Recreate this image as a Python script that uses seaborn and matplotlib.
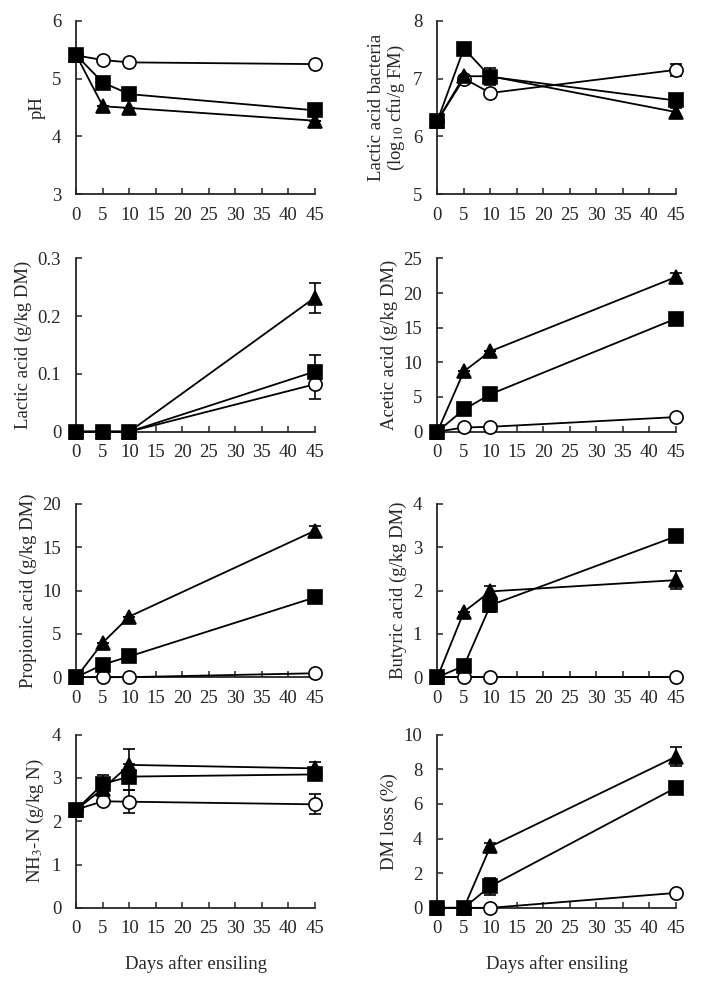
import seaborn as sns
import matplotlib.pyplot as plt
from matplotlib.ticker import FuncFormatter

# 数据：0, 5, 10, 45 天
DAYS = [0, 5, 10, 45]

# pH
ph_circle = [5.40, 5.32, 5.28, 5.25]
ph_square = [5.40, 4.93, 4.73, 4.45]
ph_triangle = [5.40, 4.52, 4.49, 4.27]

# Lactic acid bacteria
lab_circle = [6.27, 7.00, 6.75, 7.15]
lab_square = [6.27, 7.52, 7.03, 6.62]
lab_triangle = [6.27, 7.04, 7.04, 6.42]
lab_circle_err = [0, 0, 0, 0.10]
lab_square_err = [0, 0, 0.15, 0.05]
lab_triangle_err = [0, 0, 0, 0.07]

# Lactic acid
la_circle = [0, 0, 0, 0.082]
la_square = [0, 0, 0, 0.104]
la_triangle = [0, 0, 0, 0.232]
la_circle_err = [0, 0, 0, 0.025]
la_square_err = [0, 0, 0, 0.028]
la_triangle_err = [0, 0, 0, 0.026]

# Acetic acid
aa_circle = [0, 0.6, 0.7, 2.1]
aa_square = [0, 3.2, 5.4, 16.3]
aa_triangle = [0, 8.7, 11.6, 22.3]
aa_triangle_err = [0, 0, 0, 0.6]

# Propionic acid
pa_circle = [0, 0, 0, 0.45]
pa_square = [0, 1.45, 2.4, 9.2]
pa_triangle = [0, 4.0, 7.0, 16.9]
pa_triangle_err = [0, 0, 0, 0.5]

# Butyric acid
ba_circle = [0, 0, 0, 0]
ba_square = [0, 0.26, 1.66, 3.25]
ba_triangle = [0, 1.51, 1.98, 2.24]
ba_square_err = [0, 0, 0.15, 0]
ba_triangle_err = [0, 0, 0.13, 0.2]

# NH3-N
nh_circle = [2.27, 2.46, 2.45, 2.39]
nh_square = [2.27, 2.86, 3.03, 3.08]
nh_triangle = [2.27, 2.75, 3.30, 3.22]
nh_circle_err = [0, 0.05, 0.27, 0.23]
nh_square_err = [0, 0.2, 0.3, 0.1]
nh_triangle_err = [0, 0, 0.37, 0.15]

# DM loss
dm_circle = [0, 0, 0, 0.86]
dm_square = [0, 0, 1.25, 6.93]
dm_triangle = [0, 0, 3.54, 8.72]
dm_square_err = [0, 0, 0.5, 0]
dm_triangle_err = [0, 0, 0.2, 0.55]

ZERO = [0, 0, 0, 0]

PANELS = [
    ('pH', (3, 6), 1, ph_circle, ph_square, ph_triangle, ZERO, ZERO, ZERO),
    ('Lactic acid bacteria\n(log$_{10}$ cfu/g FM)', (5, 8), 1,
     lab_circle, lab_square, lab_triangle, lab_circle_err, lab_square_err, lab_triangle_err),
    ('Lactic acid (g/kg DM)', (0, 0.3), 0.1,
     la_circle, la_square, la_triangle, la_circle_err, la_square_err, la_triangle_err),
    ('Acetic acid (g/kg DM)', (0, 25), 5, aa_circle, aa_square, aa_triangle, ZERO, ZERO, aa_triangle_err),
    ('Propionic acid (g/kg DM)', (0, 20), 5, pa_circle, pa_square, pa_triangle, ZERO, ZERO, pa_triangle_err),
    ('Butyric acid (g/kg DM)', (0, 4), 1, ba_circle, ba_square, ba_triangle, ZERO, ba_square_err, ba_triangle_err),
    ('NH$_3$-N (g/kg N)', (0, 4), 1, nh_circle, nh_square, nh_triangle,
     nh_circle_err, nh_square_err, nh_triangle_err),
    ('DM loss (%)', (0, 10), 2, dm_circle, dm_square, dm_triangle, ZERO, dm_square_err, dm_triangle_err),
]

sns.set_style('ticks')
plt.rcParams['font.family'] = ['Liberation Serif', 'DejaVu Serif']
plt.rcParams['mathtext.fontset'] = 'stix'
plt.rcParams['font.size'] = 13.5

fig = plt.figure(figsize=(7.01, 9.9), dpi=100)

# 轴的位置（左、下、宽、高）
lefts = [0.109, 0.624]
bottoms = [0.804, 0.564, 0.316, 0.083]
width = 0.340
height = 0.175

for i, (ylabel, ylim, ystep, c, s, t, ce, se, te) in enumerate(PANELS):
    row, col = divmod(i, 2)
    ax = fig.add_axes([lefts[col], bottoms[row], width, height])

    styles = [
        (c, ce, 'o', 'white', 9.5),
        (t, te, '^', 'black', 10),
        (s, se, 's', 'black', 10.5),
    ]
    for vals, err, mk, face, ms in styles:
        ax.errorbar(DAYS, vals, yerr=err, fmt='none', ecolor='black',
                    elinewidth=1.2, capsize=4, capthick=1.2, zorder=2, clip_on=False)
        sns.lineplot(x=DAYS, y=vals, ax=ax, color='black', linewidth=1.3,
                     marker=mk, markersize=ms, markerfacecolor=face,
                     markeredgecolor='black', markeredgewidth=1.2,
                     errorbar=None, clip_on=False, zorder=3)

    ax.set_xlim(0, 45)
    ax.set_ylim(*ylim)
    ax.set_xticks(range(0, 46, 5))
    n = int(round((ylim[1] - ylim[0]) / ystep))
    ax.set_yticks([ylim[0] + k * ystep for k in range(n + 1)])
    ax.yaxis.set_major_formatter(FuncFormatter(lambda v, p: f'{round(v, 3):g}'))
    ax.tick_params(direction='in', length=4, width=1.1, labelsize=13.5)
    ax.tick_params(axis='x', pad=9)
    ax.tick_params(axis='y', pad=11)
    for side in ['top', 'right']:
        ax.spines[side].set_visible(False)
    for side in ['left', 'bottom']:
        ax.spines[side].set_linewidth(1.3)
    ax.set_ylabel(ylabel, fontsize=13.5, linespacing=1.1)
    if row == 3:
        ax.set_xlabel('Days after ensiling', fontsize=13.5, labelpad=13)
    else:
        ax.set_xlabel('')

fig.savefig('out.png', dpi=100, facecolor='white')
